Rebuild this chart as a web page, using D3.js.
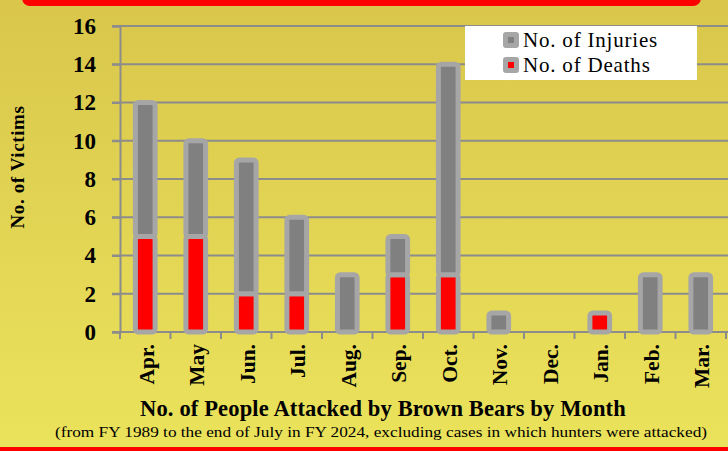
<!DOCTYPE html>
<html>
<head>
<meta charset="utf-8">
<script src="https://cdn.jsdelivr.net/npm/d3@7"></script>
<style>
  html, body { margin: 0; padding: 0; }
  body { width: 728px; height: 451px; overflow: hidden; }
  svg { display: block; font-family: "Liberation Serif", "Times New Roman", serif; }
</style>
</head>
<body>
<div id="chart"></div>
<script>
// Brown bear attacks by month — stacked bars (deaths + injuries)
const months = ["Apr.", "May", "Jun.", "Jul.", "Aug.", "Sep.", "Oct.", "Nov.", "Dec.", "Jan.", "Feb.", "Mar."];
const deaths = [5, 5, 2, 2, 0, 3, 3, 0, 0, 1, 0, 0];
const injuries = [7, 5, 7, 4, 3, 2, 11, 1, 0, 0, 3, 3];
const yTicks = [0, 2, 4, 6, 8, 10, 12, 14, 16];
const seriesNames = ["No. of Injuries", "No. of Deaths"];

(function () {
  const W = 728, H = 451;
  const plot = { left: 120, right: 726, top: 26, bottom: 332 };
  const svg = d3.select("#chart").append("svg").attr("width", W).attr("height", H);

  // background gradient
  const defs = svg.append("defs");
  const grad = defs.append("linearGradient").attr("id", "bg").attr("x1", 0).attr("y1", 0).attr("x2", 0).attr("y2", 1);
  grad.append("stop").attr("offset", "0%").attr("stop-color", "#d9c64b");
  grad.append("stop").attr("offset", "100%").attr("stop-color", "#ebe35c");
  svg.append("rect").attr("width", W).attr("height", H).attr("fill", "url(#bg)");

  // red banner top + red line bottom
  svg.append("path").attr("d", "M22,-10 H701 V-2 A8,8 0 0 1 693,6 H30 A8,8 0 0 1 22,-2 Z").attr("fill", "#ff0000");
  svg.append("rect").attr("x", 0).attr("y", 447).attr("width", W).attr("height", 4).attr("fill", "#ff0000");

  const y = d3.scaleLinear().domain([0, 16]).range([plot.bottom, plot.top]);
  const xCat = d3.scaleBand().domain(months).range([plot.left, plot.right]);
  const xBar = d3.scaleBand().domain(months).range([plot.left, plot.right])
    .paddingInner(0.61).paddingOuter(0.305);

  const data = months.map((m, i) => ({ month: m, deaths: deaths[i], injuries: injuries[i] }));

  // gridlines
  svg.append("g").selectAll("line")
    .data(yTicks)
    .join("line")
    .attr("x1", plot.left - 8).attr("x2", W)
    .attr("y1", d => y(d)).attr("y2", d => y(d))
    .attr("stroke", "#8c8c8c").attr("stroke-width", 2);

  // y axis
  const yAxis = svg.append("g")
    .attr("transform", `translate(${plot.left},0)`)
    .call(d3.axisLeft(y).tickValues(yTicks).tickSize(8).tickPadding(16));
  yAxis.select(".domain").attr("stroke", "#8c8c8c").attr("stroke-width", 2);
  yAxis.selectAll(".tick line").attr("stroke", "#8c8c8c").attr("stroke-width", 2);
  yAxis.selectAll(".tick text")
    .attr("font-family", "Liberation Serif").attr("font-weight", "bold")
    .attr("font-size", "23px").attr("fill", "#000");

  // x axis line + boundary ticks
  svg.append("line")
    .attr("x1", plot.left - 8).attr("x2", plot.right + 1)
    .attr("y1", plot.bottom).attr("y2", plot.bottom)
    .attr("stroke", "#8c8c8c").attr("stroke-width", 2);
  const bounds = months.map(m => xCat(m)).concat([xCat(months[months.length - 1]) + xCat.bandwidth()]);
  svg.append("g").selectAll("line")
    .data(bounds)
    .join("line")
    .attr("x1", d => d).attr("x2", d => d)
    .attr("y1", plot.bottom).attr("y2", plot.bottom + 7)
    .attr("stroke", "#8c8c8c").attr("stroke-width", 2);

  // bars: deaths (bottom) then injuries (top)
  const bars = svg.append("g");
  bars.selectAll(".bar-deaths")
    .data(data.filter(d => d.deaths > 0))
    .join("rect")
    .attr("class", "bar-deaths")
    .attr("x", d => xBar(d.month))
    .attr("width", xBar.bandwidth())
    .attr("y", d => y(d.deaths))
    .attr("height", d => y(0) - y(d.deaths))
    .attr("fill", "#ff0000")
    .attr("stroke", "#a6a6a6").attr("stroke-width", 5)
    .attr("rx", 3);
  bars.selectAll(".bar-injuries")
    .data(data.filter(d => d.injuries > 0))
    .join("rect")
    .attr("class", "bar-injuries")
    .attr("x", d => xBar(d.month))
    .attr("width", xBar.bandwidth())
    .attr("y", d => y(d.deaths + d.injuries))
    .attr("height", d => y(d.deaths) - y(d.deaths + d.injuries))
    .attr("fill", "#808080")
    .attr("stroke", "#a6a6a6").attr("stroke-width", 5)
    .attr("rx", 3);

  // x tick labels (rotated)
  svg.append("g").selectAll("text")
    .data(months)
    .join("text")
    .attr("transform", d => `translate(${xCat(d) + xCat.bandwidth() / 2 + 1},344) rotate(-90)`)
    .attr("text-anchor", "end")
    .attr("dy", "0.35em")
    .attr("font-weight", "bold").attr("font-size", "21.5px").attr("fill", "#000")
    .text(d => d);

  // y axis title
  svg.append("text")
    .attr("transform", "translate(17,167) rotate(-90)")
    .attr("text-anchor", "middle").attr("dy", "0.35em")
    .attr("font-weight", "bold").attr("font-size", "19px").attr("letter-spacing", "0.6px")
    .attr("fill", "#000")
    .text("No. of Victims");

  // x titles
  svg.append("text")
    .attr("x", 383).attr("y", 416)
    .attr("text-anchor", "middle")
    .attr("font-weight", "bold").attr("font-size", "22.5px").attr("letter-spacing", "0.15px").attr("fill", "#000")
    .text("No. of People Attacked by Brown Bears by Month");
  svg.append("text")
    .attr("x", 381).attr("y", 437)
    .attr("text-anchor", "middle")
    .attr("font-size", "15.5px").attr("fill", "#000")
    .attr("textLength", 652).attr("lengthAdjust", "spacingAndGlyphs")
    .text("(from FY 1989 to the end of July in FY 2024, excluding cases in which hunters were attacked)");

  // legend
  const leg = svg.append("g").attr("transform", "translate(465,26)");
  leg.append("rect").attr("width", 232).attr("height", 54).attr("fill", "#ffffff");
  const inner = ["#808080", "#ff0000"];
  seriesNames.forEach((name, i) => {
    const g = leg.append("g").attr("transform", `translate(38,${6 + i * 25})`);
    g.append("rect").attr("width", 16).attr("height", 16).attr("rx", 3).attr("fill", "#a6a6a6");
    g.append("rect").attr("x", 5).attr("y", 5).attr("width", 6).attr("height", 6).attr("fill", inner[i]);
    g.append("text").attr("x", 20).attr("y", 14.5)
      .attr("font-size", "21px").attr("letter-spacing", "0.8px").attr("fill", "#000")
      .text(name);
  });
})();
</script>
</body>
</html>
